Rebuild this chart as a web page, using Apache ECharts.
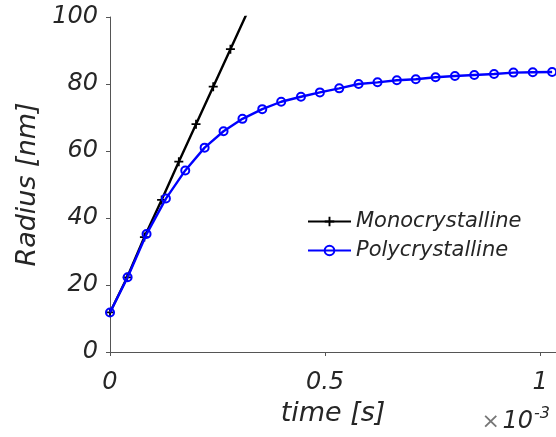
<!DOCTYPE html>
<html>
<head>
<meta charset="utf-8">
<script src="https://cdn.jsdelivr.net/npm/echarts@6/dist/echarts.min.js"></script>
<style>
  html, body { margin: 0; padding: 0; background: #fff; }
  #chart { width: 556px; height: 437px; }
</style>
</head>
<body>
<div id="chart"></div>
<script>
// time in seconds, radius in nm
const monoTime = [0, 0.04e-3, 0.08e-3, 0.12e-3, 0.16e-3, 0.20e-3, 0.24e-3, 0.28e-3, 0.32e-3]
const monoRadius = [11.8, 22.3, 34.3, 45.4, 56.8, 68.0, 79.2, 90.4, 101.6]

const polyTime = [0, 0.041e-3, 0.085e-3, 0.130e-3, 0.175e-3, 0.220e-3, 0.264e-3, 0.308e-3,
  0.354e-3, 0.398e-3, 0.444e-3, 0.488e-3, 0.533e-3, 0.578e-3, 0.622e-3, 0.667e-3,
  0.711e-3, 0.757e-3, 0.802e-3, 0.847e-3, 0.893e-3, 0.938e-3, 0.983e-3, 1.028e-3]
const polyRadius = [11.8, 22.3, 35.2, 45.8, 54.2, 61.0, 65.9, 69.6,
  72.5, 74.7, 76.2, 77.5, 78.7, 80.0, 80.5, 81.1,
  81.4, 82.0, 82.4, 82.7, 83.0, 83.4, 83.5, 83.6]

const xTicks = [0, 0.5e-3, 1e-3]
const yTicks = [0, 20, 40, 60, 80, 100]

const FONT = 'DejaVu Sans'
const TEXT = '#262626'
const AXIS = '#555555'

const plusPath = 'path://M4,0H6V4H10V6H6V10H4V6H0V4H4Z'

const chart = echarts.init(document.getElementById('chart'))

chart.setOption({
  animation: false,
  grid: { left: 110, right: 0, top: 17, bottom: 85 },
  legend: {
    orient: 'vertical',
    left: 307,
    top: 211,
    padding: 0,
    itemWidth: 43,
    itemHeight: 12,
    itemGap: 8,
    textStyle: { fontFamily: FONT, fontStyle: 'italic', fontSize: 21, color: TEXT },
    data: ['Monocrystalline', 'Polycrystalline']
  },
  xAxis: {
    type: 'value',
    min: 0,
    max: 1.037e-3,
    name: 'time [s]',
    nameLocation: 'middle',
    nameGap: 48,
    nameTextStyle: { fontFamily: FONT, fontStyle: 'italic', fontSize: 27, color: TEXT },
    axisLine: { lineStyle: { color: AXIS, width: 1 } },
    axisTick: { show: true, inside: false, length: 4, customValues: xTicks, lineStyle: { color: AXIS } },
    axisLabel: {
      customValues: xTicks,
      margin: 19,
      fontFamily: FONT, fontStyle: 'italic', fontSize: 24, color: TEXT,
      formatter: v => String(Math.round(v * 1e4) / 10)
    },
    splitLine: { show: false }
  },
  yAxis: {
    type: 'value',
    min: 0,
    max: 100,
    interval: 20,
    name: 'Radius [nm]',
    nameLocation: 'middle',
    nameGap: 69,
    nameTextStyle: { fontFamily: FONT, fontStyle: 'italic', fontSize: 27, color: TEXT },
    axisLine: { show: true, lineStyle: { color: AXIS, width: 1 } },
    axisTick: { show: true, inside: false, length: 4, lineStyle: { color: AXIS } },
    axisLabel: {
      margin: 12,
      fontFamily: FONT, fontStyle: 'italic', fontSize: 24, color: TEXT,
      customValues: yTicks
    },
    splitLine: { show: false }
  },
  graphic: [
    {
      type: 'text', x: 500, y: 422,
      style: { text: '×', align: 'right', verticalAlign: 'middle', fontFamily: FONT, fontSize: 22, fill: '#777' }
    },
    {
      type: 'text', x: 533, y: 422,
      style: { text: '10', align: 'right', verticalAlign: 'middle', fontFamily: FONT, fontStyle: 'italic', fontSize: 24, fill: TEXT }
    },
    {
      type: 'text', x: 534, y: 414,
      style: { text: '-3', align: 'left', verticalAlign: 'middle', fontFamily: FONT, fontStyle: 'italic', fontSize: 16, fill: TEXT }
    }
  ],
  series: [
    {
      name: 'Monocrystalline',
      type: 'line',
      data: monoTime.map((t, i) => [t, monoRadius[i]]),
      symbol: plusPath,
      symbolSize: 9,
      showAllSymbol: true,
      clip: true,
      lineStyle: { color: '#000000', width: 2.4 },
      itemStyle: { color: '#000000' },
      emphasis: { disabled: true },
      z: 2
    },
    {
      name: 'Polycrystalline',
      type: 'line',
      data: polyTime.map((t, i) => [t, polyRadius[i]]),
      symbol: 'circle',
      symbolSize: 8,
      showAllSymbol: true,
      clip: false,
      lineStyle: { color: '#0000ff', width: 2.4 },
      itemStyle: { color: 'rgba(0,0,0,0)', borderColor: '#0000ff', borderWidth: 2 },
      emphasis: { disabled: true },
      z: 3
    }
  ]
})
</script>
</body>
</html>
